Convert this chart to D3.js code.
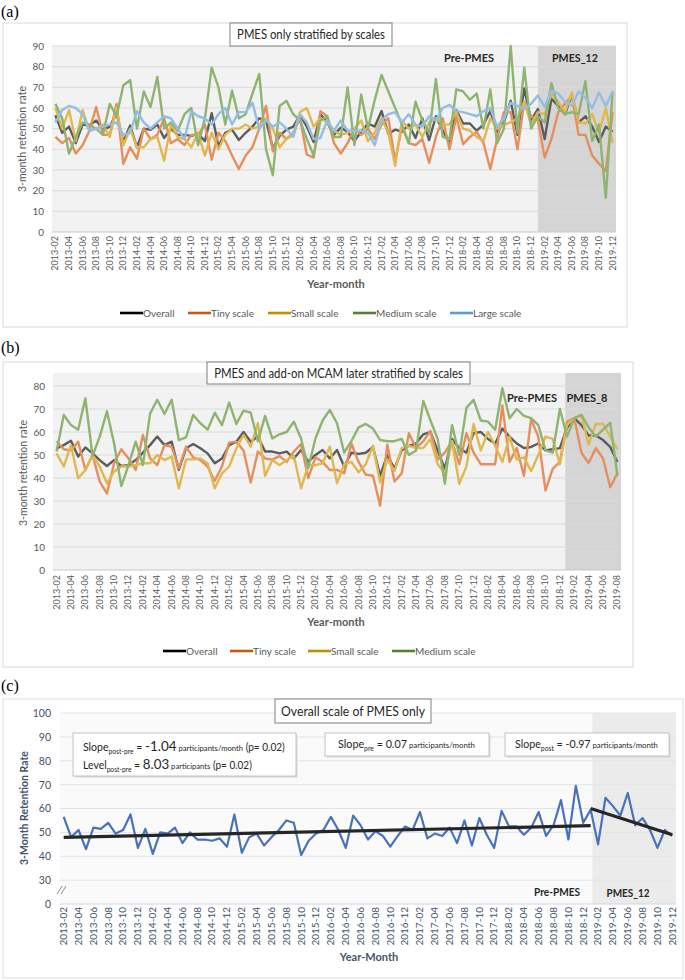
<!DOCTYPE html>
<html><head><meta charset="utf-8">
<script src="https://cdn.jsdelivr.net/npm/d3@7"></script>
<style>
body{margin:0;background:#fff;}
svg text{font-family:Lato,"Open Sans",sans-serif;}
</style></head><body>
<svg id="chart" width="685" height="980"></svg>
<script>
// ---------- categories ----------
const months = [
"2013-02","2013-03","2013-04","2013-05","2013-06","2013-07","2013-08","2013-09","2013-10","2013-11","2013-12",
"2014-01","2014-02","2014-03","2014-04","2014-05","2014-06","2014-07","2014-08","2014-09","2014-10","2014-11","2014-12",
"2015-01","2015-02","2015-03","2015-04","2015-05","2015-06","2015-07","2015-08","2015-09","2015-10","2015-11","2015-12",
"2016-01","2016-02","2016-03","2016-04","2016-05","2016-06","2016-07","2016-08","2016-09","2016-10","2016-11","2016-12",
"2017-01","2017-02","2017-03","2017-04","2017-05","2017-06","2017-07","2017-08","2017-09","2017-10","2017-11","2017-12",
"2018-01","2018-02","2018-03","2018-04","2018-05","2018-06","2018-07","2018-08","2018-09","2018-10","2018-11","2018-12",
"2019-01","2019-02","2019-03","2019-04","2019-05","2019-06","2019-07","2019-08","2019-09","2019-10","2019-11","2019-12"];
const monthsB = months.slice(0, 79); // 2013-02 .. 2019-08

// ---------- panel (a) values: PMES only stratified by scales ----------
const overallA = [56.5,48,51,43,52,51.5,54,49.5,51,57.5,43.5,51.5,41,50,49.5,52,45.5,50,47,47,46.5,47.5,44,57.5,41.5,48,49.5,44.5,48,51,55,54,40.5,46.5,49.5,51,56.5,51,43.5,57,53,47,50.5,48.5,44,48.5,52.5,51,58.5,47.5,49.5,48.5,52,45.5,55,44.5,56,49,43.5,59,52.5,52.5,49,52,58.5,48.5,53,63.5,47,69.5,54,59.5,45,64.5,61,57,66.5,53,56,51,43.5,51,48.5];
const tinyA = [46,43,45.5,38,42,49,60.5,47,47,62,33,41,35.5,50,45,47,55,43,45,42,47,47,52,35,48,44,37,30.5,37,41,50,61,39,48,45,48,55,37.5,36,58.5,56,43,38,
43,50,47,50,45,52,55,34.5,51,43,42,45,33.5,46,55,40,56,42.5,46,48.5,43,30.5,45,58,58,40,63,56,54,36,45,58,62,66,47,47,37,33,29.5,58];
const smallA = [60,50,59,44,59,49,50,52,46,60,42,50,41,41,45,46,34.5,52,46,45,41,48,37,48,40,47,50,50,52,50,51,55,50,41,45,47,58,60,51,55,53,49,47,
48,50,54,44,48,55,48,32,54,50,52,46,53,55,52,52,58,50,49,46,44,55,50,52,53,55,63,52,58,57,67,63,58,67.5,53,52.5,57,48,60,43];
const mediumA = [62,55,38,46,53,52,50,47,62,56,71,73.5,50,68,60.5,75,50,53,49,57,60,42,55,79.5,70,52,68.5,55,57,67,76.5,40,27.5,61,63.5,57,54,45,37,54,56,46,46,
70,42,66.5,50,64,76,68,60,52,43,63,54,48,74,46,45,69,68,64,67,50,69,43,50,90,48,79.5,50,56,53,72,60,57,58,57,73,44,52,16.5,68];
const largeA = [53,59,61,60,57,49,50,51,52,53,47,48,58.5,53,50,53,56,55,50,45,58.5,56,55,52,57,60,52,58,58,62.5,50,54,51,53,50,46,57,53,45,45.5,54,49,54,
49,49,49,48,42,54,57,58,53,57,52,51,56,54,60,61.5,58.5,58,57,56,58.5,60,51,55,62.5,61,59.5,62,66,60.5,68.5,67,63,61,68,65,60,67.5,61,68];

// ---------- panel (b) values: PMES and add-on MCAM ----------
const overallB = [52.9,54.3,56.2,49.3,53.3,50.7,47.8,45.2,47.8,45.2,45.6,47.8,51,54.3,58,54.3,55.8,43.5,52.9,54.8,52.9,50.7,46.4,48.5,54.3,55.8,60,55.8,58,51.5,51.5,50.7,51.5,48.5,52.2,47.1,50,52.2,48.5,52.2,
45,51,50.5,51,53.5,41,50,44,52,54,55,59,60,52,44,57,53,51,59.5,60,57,55,61.5,58,55,53,53.5,55,52,52.5,53,62,66,63,58.5,58.5,56.5,53.5,47];
const tinyB = [56,52.5,52,55.8,43.5,50,38.4,33.3,46.4,52.5,48.5,43.5,58.7,48.5,45.6,54.3,53.6,44.2,53.6,49,47.8,45,38.8,45,55.4,55.8,52,38,51.5,48.5,48,49.5,47,51.5,54.8,40,49,47,43.5,43.5,
42,55,47,41.5,41,28,54.5,38.5,42,59.5,53,56,60.5,48,51,56,46,59.5,51,46,46,46,71.5,47,53,41,65.5,58,34.5,44,47,64.5,66,51,46.5,53,48.5,36,42];
const smallB = [50.7,45,54.3,39.9,43.5,50,45,37.7,42.8,45,45,45.6,46.4,46.4,50,47.8,49.3,35.5,48.1,48.1,48.5,46.4,35.5,42,45,52.9,58.7,53.6,63.8,40.9,47.8,45.6,47.8,49.6,35.5,45.6,45.6,46.4,53.6,37.7,
46,47,42.5,46,54,38,48,43,53,54,53,53,57,46,42,56,37.5,45,63.5,52,60,54,47,58,48,49,43,50,58,57,46,63,66,67,54.5,63.5,63.5,58,52.5];
const mediumB = [51.5,67.4,63,61,74.6,49.6,58,69,55,36.5,45.6,55.8,45.6,68,74,67.8,74,56.5,57.7,67.4,63.8,61,68.4,63,72.8,63.5,69.3,68.4,56,67,57.2,59,60,64.5,57.2,44.2,57.2,65,69.6,63.8,
51,56,62,63.5,61.5,56.5,56,56,57,50,52,73.5,65,57,37.5,63,50,70.5,74,65,64.5,61,79,66,70,67,66,63,52,51,70,58,66,67.5,62,58,61,64,41];

// ---------- panel (c) values: overall of PMES only + segmented trend ----------
const overallC = overallA;
const trendPre  = [{m:"2013-02", v:47.9}, {m:"2019-01", v:52.8}];
const trendPost = [{m:"2019-01", v:60.0}, {m:"2019-12", v:49.0}];

// ---------- tick labels ----------
const yTicksA = [0,10,20,30,40,50,60,70,80,90];
const yTicksB = [0,10,20,30,40,50,60,70,80];
const yTicksC = [20,30,40,50,60,70,80,90,100];
const yTickLabelsC = {20:"0",30:"30",40:"40",50:"50",60:"60",70:"70",80:"80",90:"90",100:"100"};
const seriesNames = ["Overall","Tiny scale","Small scale","Medium scale","Large scale"];

const svg = d3.select("#chart");

function fitX(sel, x0, target){
  const w = sel.node().getComputedTextLength();
  sel.attr("x", 0).attr("transform", `translate(${x0},0) scale(${target/w},1)`);
}
function fitCenter(sel, cx, target){
  const w = sel.node().getComputedTextLength();
  sel.attr("x",0).attr("text-anchor","middle").attr("transform", `translate(${cx},0) scale(${target/w},1)`);
}

function drawLinePanel(o){
  const g = svg.append("g");
  g.append("rect").attr("x",o.border[0]).attr("y",o.border[1])
    .attr("width",o.border[2]-o.border[0]).attr("height",o.border[3]-o.border[1])
    .attr("fill","#fff").attr("stroke","#d9d9d9");
  const x = d3.scaleBand().domain(o.months).range([o.left,o.right]);
  const bw = x.bandwidth();
  const cx = m => x(m)+bw/2;
  const y = d3.scaleLinear().domain(o.yDomain).range(o.yRange);
  const bottom = y(o.yDomain[0]);
  g.append("rect").attr("x",o.left).attr("y",o.top).attr("width",o.right-o.left)
    .attr("height",bottom-o.top).attr("fill","#f2f2f2");
  const sx = x(o.months[o.shadeIndex]) + bw*o.shadeOffset;
  g.append("rect").attr("x",sx).attr("y",o.top).attr("width",o.right-sx)
    .attr("height",bottom-o.top).attr("fill","#d5d5d5");
  g.selectAll(null).data(o.yTicks).join("line")
    .attr("x1",o.left).attr("x2",o.right).attr("y1",d=>y(d)).attr("y2",d=>y(d))
    .attr("stroke",d=>d===0?"#c8c8c8":"#dadada").attr("stroke-width",1);
  // y axis labels
  const ya = g.append("g").attr("transform",`translate(${o.left},0)`)
    .call(d3.axisLeft(y).tickValues(o.yTicks).tickSize(0).tickPadding(8));
  ya.select(".domain").remove();
  ya.selectAll("text").attr("fill","#595959").style("font-size","10px").style("font-family","Lato");
  // x axis labels
  const xa = g.append("g").attr("transform",`translate(0,${o.xLabelY})`)
    .call(d3.axisBottom(x).tickValues(o.months.filter((d,i)=>i%2===0)).tickSize(0).tickPadding(0));
  xa.select(".domain").remove();
  xa.selectAll("text").attr("fill","#595959").style("font-size","9px").style("font-family","Lato")
    .attr("text-anchor","end").attr("dy","0.33em").attr("y",0).attr("x",0)
    .attr("transform","rotate(-90)");
  // series
  const line = d3.line().x((d,i)=>cx(o.months[i])).y(d=>y(d));
  o.series.forEach(s=>{
    g.append("path").datum(s.values).attr("d",line).attr("fill","none")
      .attr("stroke",s.color).attr("stroke-width",2.4).attr("stroke-linejoin","round");
  });
  // title box
  g.append("rect").attr("x",o.titleBox[0]).attr("y",o.titleBox[1]).attr("width",o.titleBox[2]).attr("height",o.titleBox[3])
    .attr("fill","#fff").attr("stroke","#7f7f7f");
  const t = g.append("text").attr("y",o.titleY).style("font-size","12.5px").attr("fill","#262626").text(o.title);
  fitCenter(t, o.titleBox[0]+o.titleBox[2]/2, o.titleW);
  // period labels
  o.periods.forEach(p=>{
    const tt = g.append("text").attr("y",p.y).style("font-size","11.5px").style("font-weight","bold").attr("fill","#262626").text(p.text);
    fitCenter(tt, p.x, p.w);
  });
  // axis titles
  g.append("text").attr("transform",`translate(${o.yTitle[0]},${o.yTitle[1]}) rotate(-90)`)
    .attr("text-anchor","middle").attr("dy","0.35em").style("font-size","10.5px").attr("fill","#595959").text("3-month retention rate");
  g.append("text").attr("x",o.xTitle[0]).attr("y",o.xTitle[1]).attr("text-anchor","middle")
    .style("font-size","11px").style("font-weight","bold").attr("fill","#595959").text("Year-month");
  // legend
  o.series.forEach((s,i)=>{
    const lx = o.legendX[i];
    g.append("line").attr("x1",lx).attr("x2",lx+23).attr("y1",o.legendY).attr("y2",o.legendY)
      .attr("stroke",s.legendColor).attr("stroke-width",2.6);
    g.append("text").attr("x",lx+23).attr("y",o.legendY).attr("dy","0.35em")
      .style("font-size","10px").attr("fill","#595959").text(s.name);
  });
  // panel letter
  svg.append("text").attr("x",1).attr("y",o.letterY).style("font-family","'Liberation Serif','DejaVu Serif',serif")
    .style("font-size","16px").attr("fill","#000").text(o.letter);
}

const colA = {Overall:"#5c5c5c","Tiny scale":"#e58f5c","Small scale":"#e0b850","Medium scale":"#8db470","Large scale":"#92bee6"};
const legCol = {Overall:"#000000","Tiny scale":"#c55a11","Small scale":"#bf9000","Medium scale":"#548235","Large scale":"#5b9bd5"};

drawLinePanel({
  letter:"(a)", letterY:17,
  border:[3,23,627,327], months:months, left:52, right:616, top:46,
  yDomain:[0,90], yRange:[232,46], yTicks:yTicksA, shadeIndex:71, shadeOffset:0.5,
  xLabelY:236,
  series:[overallA,tinyA,smallA,mediumA,largeA].map((v,i)=>({name:seriesNames[i],values:v,color:colA[seriesNames[i]],legendColor:legCol[seriesNames[i]]})),
  titleBox:[230,23,162,23], titleY:39, titleW:148, title:"PMES only stratified by scales",
  periods:[{text:"Pre-PMES",x:469,y:62,w:50},{text:"PMES_12",x:575,y:62,w:46}],
  yTitle:[22,139], xTitle:[336,288], legendX:[120,188,268,353,450], legendY:313
});

drawLinePanel({
  letter:"(b)", letterY:353,
  border:[3,362,633,667], months:monthsB, left:53, right:621, top:373,
  yDomain:[0,80], yRange:[570,386], yTicks:yTicksB, shadeIndex:71, shadeOffset:0.25,
  xLabelY:575,
  series:[overallB,tinyB,smallB,mediumB].map((v,i)=>({name:seriesNames[i],values:v,color:colA[seriesNames[i]],legendColor:legCol[seriesNames[i]]})),
  titleBox:[207,362,263,22], titleY:378, titleW:249, title:"PMES and add-on MCAM later stratified by scales",
  periods:[{text:"Pre-PMES",x:532,y:402,w:50},{text:"PMES_8",x:587,y:402,w:41}],
  yTitle:[23,473], xTitle:[336,626], legendX:[163,230,308,392], legendY:651
});

// ---------- panel (c) ----------
(function(){
  const g = svg.append("g");
  g.append("rect").attr("x",3).attr("y",699).attr("width",680).attr("height",279).attr("fill","#fff").attr("stroke","#d9dde3");
  const x = d3.scaleBand().domain(months).range([60,676]);
  const bw = x.bandwidth();
  const cx = m => x(m)+bw/2;
  const y = d3.scaleLinear().domain([20,100]).range([904,713]);
  g.append("rect").attr("x",60).attr("y",713).attr("width",616).attr("height",191).attr("fill","#fafafa");
  const sx = x(months[71]) + bw*0.75;
  g.append("rect").attr("x",sx).attr("y",713).attr("width",676-sx).attr("height",191).attr("fill","#ebebeb");
  g.selectAll(null).data(yTicksC).join("line")
    .attr("x1",60).attr("x2",676).attr("y1",d=>y(d)).attr("y2",d=>y(d))
    .attr("stroke",d=>d===20?"#d0d4da":"#dfe4ec");
  const ya = g.append("g").attr("transform","translate(60,0)")
    .call(d3.axisLeft(y).tickValues(yTicksC).tickSize(0).tickPadding(9).tickFormat(d=>yTickLabelsC[d]));
  ya.select(".domain").remove();
  ya.selectAll("text").attr("fill","#44546a").style("font-size","10.5px").style("font-family","Lato");
  // axis break marks
  g.append("line").attr("x1",57).attr("y1",894).attr("x2",62).attr("y2",886).attr("stroke","#8a8a8a");
  g.append("line").attr("x1",61).attr("y1",894).attr("x2",66).attr("y2",886).attr("stroke","#8a8a8a");
  const xa = g.append("g").attr("transform","translate(0,907)")
    .call(d3.axisBottom(x).tickValues(months.filter((d,i)=>i%2===0)).tickSize(0).tickPadding(0));
  xa.select(".domain").remove();
  xa.selectAll("text").attr("fill","#44546a").style("font-size","10px").style("font-family","Lato")
    .attr("text-anchor","end").attr("dy","0.33em").attr("y",0).attr("x",0).attr("transform","rotate(-90)");
  const line = d3.line().x((d,i)=>cx(months[i])).y(d=>y(d));
  g.append("path").datum(overallC).attr("d",line).attr("fill","none").attr("stroke","#4a72b8")
    .attr("stroke-width",2.2).attr("stroke-linejoin","round");
  const tl = d3.line().x(d=>cx(d.m)).y(d=>y(d.v));
  [trendPre,trendPost].forEach(t=>{
    g.append("path").datum(t).attr("d",tl).attr("stroke","#262626").attr("stroke-width",3.2).attr("fill","none");
  });
  // titles
  g.append("rect").attr("x",275).attr("y",699).attr("width",156).attr("height",24).attr("fill","#fff").attr("stroke","#7f7f7f");
  fitCenter(g.append("text").attr("y",716.5).style("font-size","14px").attr("fill","#262626").text("Overall scale of PMES only"),353,144);
  // annotation boxes
  const boxes = [[73,733,223,43],[325,733,164,23],[505,733,164,23]];
  boxes.forEach(b=>{
    g.append("rect").attr("x",b[0]+1.5).attr("y",b[1]+1.5).attr("width",b[2]).attr("height",b[3]).attr("fill","#d8d8d8");
    g.append("rect").attr("x",b[0]).attr("y",b[1]).attr("width",b[2]).attr("height",b[3]).attr("fill","#fff").attr("stroke","#c4c4c4");
  });
  function ann(parts, yy){
    const t = g.append("text").attr("y",yy).attr("fill","#262626");
    parts.forEach(p=>{
      const ts = t.append("tspan").style("font-size",p[1]+"px").text(p[0]);
      if(p[2]) ts.attr("dy",p[2]);
    });
    return t;
  }
  fitX(ann([["Slope",11],["post-pre",7,3],[" = ",11,-3],["-1.04",14],[" participants/month",8],[" (p= 0.02)",10.5]],751),83,202);
  fitX(ann([["Level",11],["post-pre",7,3],[" = ",11,-3],["8.03",14],[" participants",8],[" (p= 0.02)",10.5]],769),83,169);
  fitX(ann([["Slope",11],["pre",7,3],[" = 0.07",11,-3],[" participants/month",8]],748),338,137);
  fitX(ann([["Slope",11],["post",7,3],[" = -0.97",11,-3],[" participants/month",8]],748),515,143);
  fitCenter(g.append("text").attr("y",896).style("font-size","10.5px").style("font-weight","bold").attr("fill","#262626").text("Pre-PMES"),557,46);
  fitCenter(g.append("text").attr("y",897).style("font-size","10.5px").style("font-weight","bold").attr("fill","#262626").text("PMES_12"),628,43);
  g.append("text").attr("transform","translate(24,808) rotate(-90)").attr("text-anchor","middle").attr("dy","0.35em")
    .style("font-size","10.5px").style("font-weight","bold").attr("fill","#44546a").text("3-Month Retention Rate");
  g.append("text").attr("x",369).attr("y",961).attr("text-anchor","middle").style("font-size","11px")
    .style("font-weight","bold").attr("fill","#44546a").text("Year-Month");
  svg.append("text").attr("x",1).attr("y",691).style("font-family","'Liberation Serif','DejaVu Serif',serif")
    .style("font-size","16px").attr("fill","#000").text("(c)");
})();
</script>
</body></html>
